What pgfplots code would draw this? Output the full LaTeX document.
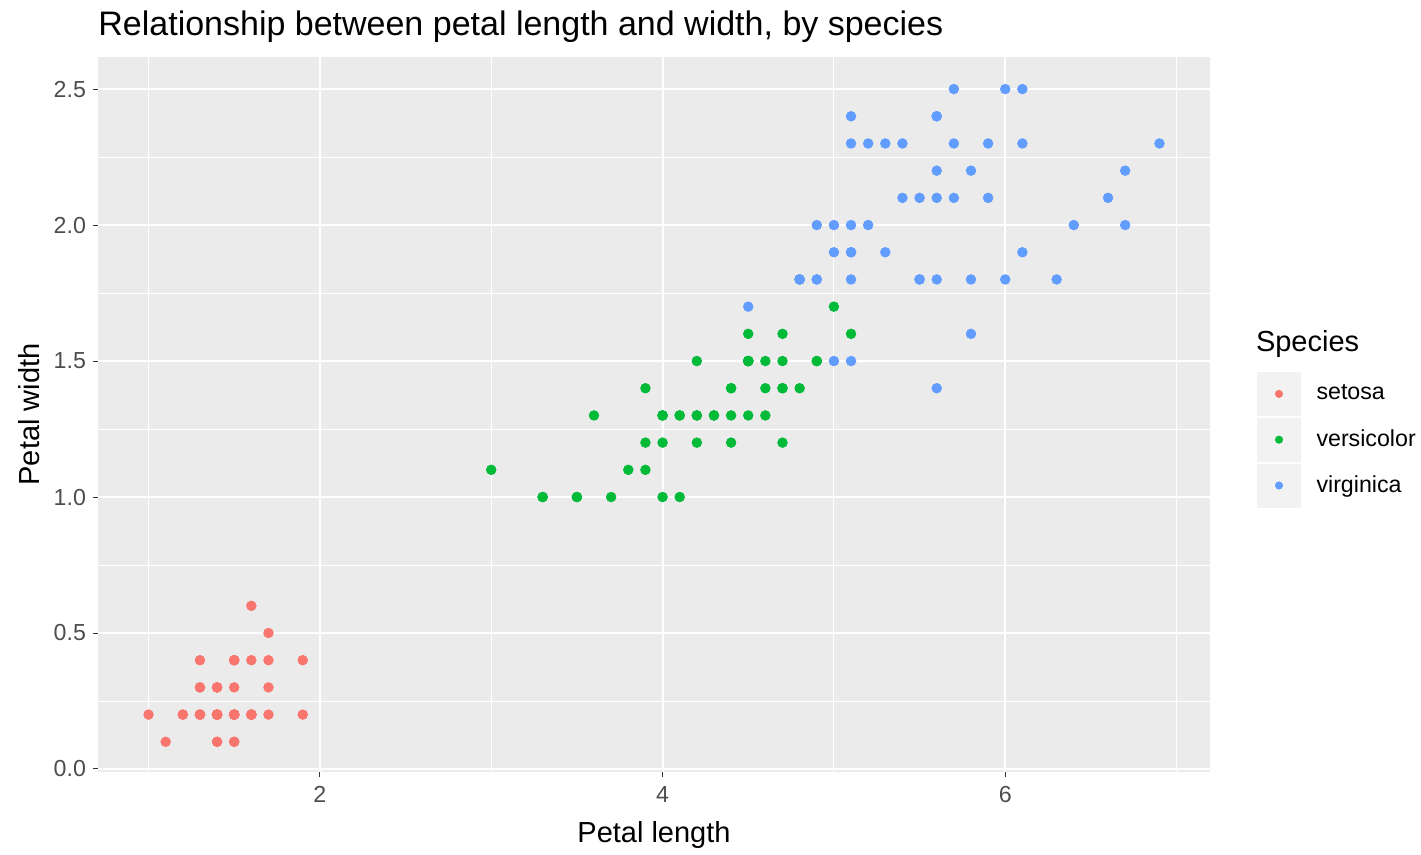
\documentclass[border=0pt]{standalone}
\usepackage{pgfplots}
\pgfplotsset{compat=1.18}
\usetikzlibrary{calc}
\usepackage{fontspec}
\setmainfont{Liberation Sans}

\definecolor{panel}{HTML}{EBEBEB}
\definecolor{keybg}{HTML}{F2F2F2}
\definecolor{ticktxt}{HTML}{4D4D4D}
\definecolor{tickcol}{HTML}{333333}
\definecolor{cset}{HTML}{F8766D}
\definecolor{cver}{HTML}{00BA38}
\definecolor{cvir}{HTML}{619CFF}

\begin{document}
\begin{tikzpicture}
\begin{axis}[
    name=ax,
    scale only axis,
    width=556pt, height=357.5pt,
    xmin=0.705, xmax=7.195,
    ymin=-0.011, ymax=2.618,
    xtick={2,4,6},
    ytick={0,0.5,1,1.5,2,2.5},
    minor xtick={1,3,5,7},
    minor ytick={0.25,0.75,1.25,1.75,2.25},
    grid=both,
    major grid style={white, line width=1pt},
    minor grid style={white, line width=0.5pt},
    axis background/.style={fill=panel},
    axis line style={draw=none},
    tick align=outside,
    major tick length=2.5pt,
    minor tick length=0pt,
    major tick style={tickcol, line width=0.5pt},
    xtick pos=bottom, ytick pos=left,
    /pgf/number format/assume math mode=true,
    yticklabel style={/pgf/number format/fixed, /pgf/number format/fixed zerofill, /pgf/number format/precision=1},
    xticklabel style={yshift=-1pt},
    ticklabel style={font=\fontsize{11.6}{13}\selectfont, text=ticktxt},
    xlabel={Petal length},
    ylabel={Petal width},
    xlabel style={yshift=-2.5pt},
    label style={font=\fontsize{14.5}{16}\selectfont},
    title={Relationship between petal length and width, by species},
    title style={font=\fontsize{17}{19}\selectfont, at={(0,1)}, anchor=south west, inner xsep=0pt, yshift=-2.5pt},
    legend style={at={(1.042,0.560)}, anchor=north west, draw=none, fill=none,
        inner sep=0pt, row sep=1pt, font=\fontsize{11.6}{13}\selectfont,
        nodes={inner xsep=0pt}},
    legend cell align=left,
    legend image code/.code={
        \fill[keybg] (0pt,-10.75pt) rectangle (21.5pt,10.75pt);
        \fill (10.75pt,0pt) circle (1.8pt);
        \path[draw=none, fill=none] (0pt,0pt) rectangle (29.5pt,0.1pt);
    },
    clip=false,
]
\addplot[only marks, mark=*, mark size=2.4pt, cset, mark options={draw=none, fill=cset}] coordinates {
(1.4,0.2) (1.4,0.2) (1.3,0.2) (1.5,0.2) (1.4,0.2) (1.7,0.4) (1.4,0.3) (1.5,0.2) (1.4,0.2) (1.5,0.1)
(1.5,0.2) (1.6,0.2) (1.4,0.1) (1.1,0.1) (1.2,0.2) (1.5,0.4) (1.3,0.4) (1.4,0.3) (1.7,0.3) (1.5,0.3)
(1.7,0.2) (1.5,0.4) (1.0,0.2) (1.7,0.5) (1.9,0.2) (1.6,0.2) (1.6,0.4) (1.5,0.2) (1.4,0.2) (1.6,0.2)
(1.6,0.2) (1.5,0.4) (1.5,0.1) (1.4,0.2) (1.5,0.2) (1.2,0.2) (1.3,0.2) (1.4,0.1) (1.3,0.2) (1.5,0.2)
(1.3,0.3) (1.3,0.3) (1.3,0.2) (1.6,0.6) (1.9,0.4) (1.4,0.3) (1.6,0.2) (1.4,0.2) (1.5,0.2) (1.4,0.2)
};
\addlegendentry{setosa}
\addplot[only marks, mark=*, mark size=2.4pt, cver, mark options={draw=none, fill=cver}] coordinates {
(4.7,1.4) (4.5,1.5) (4.9,1.5) (4.0,1.3) (4.6,1.5) (4.5,1.3) (4.7,1.6) (3.3,1.0) (4.6,1.3) (3.9,1.4)
(3.5,1.0) (4.2,1.5) (4.0,1.0) (4.7,1.4) (3.6,1.3) (4.4,1.4) (4.5,1.5) (4.1,1.0) (4.5,1.5) (3.9,1.1)
(4.8,1.8) (4.0,1.3) (4.9,1.5) (4.7,1.2) (4.3,1.3) (4.4,1.4) (4.8,1.4) (5.0,1.7) (4.5,1.5) (3.5,1.0)
(3.8,1.1) (3.7,1.0) (3.9,1.2) (5.1,1.6) (4.5,1.5) (4.5,1.6) (4.7,1.5) (4.4,1.3) (4.1,1.3) (4.0,1.3)
(4.4,1.2) (4.6,1.4) (4.0,1.2) (3.3,1.0) (4.2,1.3) (4.2,1.2) (4.2,1.3) (4.3,1.3) (3.0,1.1) (4.1,1.3)
};
\addlegendentry{versicolor}
\addplot[only marks, mark=*, mark size=2.4pt, cvir, mark options={draw=none, fill=cvir}] coordinates {
(6.0,2.5) (5.1,1.9) (5.9,2.1) (5.6,1.8) (5.8,2.2) (6.6,2.1) (4.5,1.7) (6.3,1.8) (5.8,1.8) (6.1,2.5)
(5.1,2.0) (5.3,1.9) (5.5,2.1) (5.0,2.0) (5.1,2.4) (5.3,2.3) (5.5,1.8) (6.7,2.2) (6.9,2.3) (5.0,1.5)
(5.7,2.3) (4.9,2.0) (6.7,2.0) (4.9,1.8) (5.7,2.1) (6.0,1.8) (4.8,1.8) (4.9,1.8) (5.6,2.1) (5.8,1.6)
(6.1,1.9) (6.4,2.0) (5.6,2.2) (5.1,1.5) (5.6,1.4) (6.1,2.3) (5.6,2.4) (5.5,1.8) (4.8,1.8) (5.4,2.1)
(5.6,2.4) (5.1,2.3) (5.1,1.9) (5.9,2.3) (5.7,2.5) (5.2,2.3) (5.0,1.9) (5.2,2.0) (5.4,2.3) (5.1,1.8)
};
\addlegendentry{virginica}
\node[anchor=west, inner sep=0pt, font=\fontsize{14.5}{16}\selectfont] at (rel axis cs:1.041,0.598) {Species};
\end{axis}
\path (ax.south west) ++(-49pt,-38.5pt) rectangle ($(ax.north east)+(105.5pt,28.5pt)$);
\end{tikzpicture}
\end{document}
